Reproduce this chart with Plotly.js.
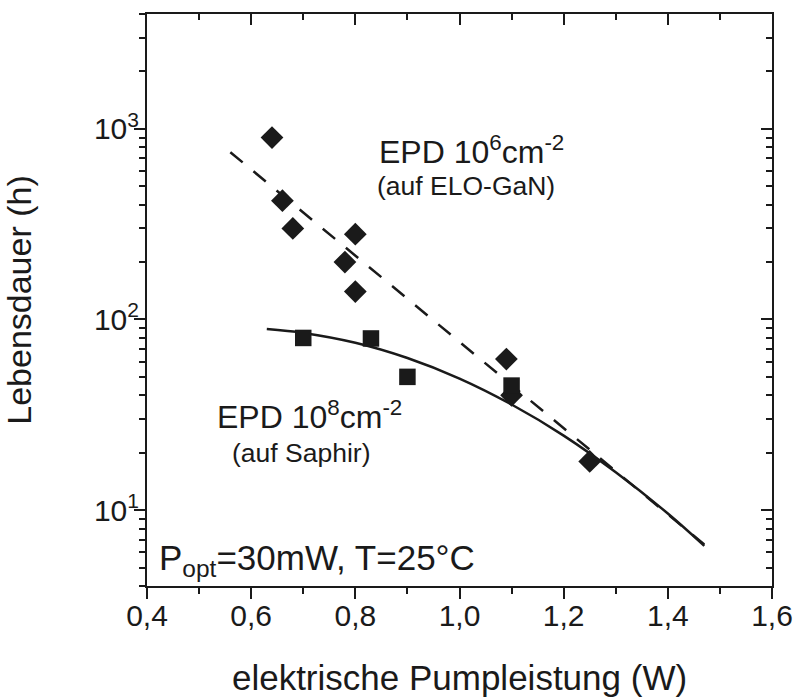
<!DOCTYPE html>
<html>
<head>
<meta charset="utf-8">
<script src="https://cdn.plot.ly/plotly-3.0.1.min.js"></script>
<style>html,body{margin:0;padding:0;background:#fff;}#chart{width:795px;height:697px;}</style>
</head>
<body>
<div id="chart"></div>
<script>
// ELO-GaN (EPD 10^6 cm^-2) lifetimes, diamonds
const eloPower = [0.64, 0.66, 0.68, 0.78, 0.80, 0.80, 1.09, 1.10, 1.25];
const eloLife  = [900, 420, 300, 200, 280, 140, 62, 40, 18];
// Sapphire (EPD 10^8 cm^-2) lifetimes, squares
const sapPower = [0.70, 0.83, 0.90, 1.10];
const sapLife  = [80, 79.5, 50, 45];
// Dashed fit (ELO-GaN)
const fitEloPower = [0.56, 1.47];
const fitEloLife  = [754, 6.6];
// Solid fit (sapphire)
const fitSapPower = [0.63, 0.70, 0.80, 0.90, 1.00, 1.10, 1.20, 1.30, 1.40, 1.47];
const fitSapLife  = [89, 85, 75.5, 62.8, 49, 35.8, 24.6, 15.8, 9.6, 6.5];
// Axis tick labels
const yTickVals = [10, 100, 1000];
const yTickText = ['10<sup>1</sup>', '10<sup>2</sup>', '10<sup>3</sup>'];
const yMinorVals = [4,5,6,7,8,9,20,30,40,50,60,70,80,90,200,300,400,500,600,700,800,900,2000,3000,4000];

const FONT = 'Liberation Sans, Arial, Helvetica, sans-serif';
const INK = '#1a1a1a';

const traces = [
  {x: fitEloPower, y: fitEloLife, mode: 'lines', line: {color: INK, width: 2.5, dash: '16px,14px'}, hoverinfo: 'skip'},
  {x: fitSapPower, y: fitSapLife, mode: 'lines', line: {color: INK, width: 2.5, shape: 'spline', smoothing: 1}, hoverinfo: 'skip'},
  {x: eloPower, y: eloLife, mode: 'markers', marker: {symbol: 'diamond', size: 17.5, color: INK}},
  {x: sapPower, y: sapLife, mode: 'markers', marker: {symbol: 'square', size: 16.5, color: INK}},
  {x: [1.0], y: [100], xaxis: 'x2', yaxis: 'y2', mode: 'markers', marker: {opacity: 0}, hoverinfo: 'skip'},
  {x: [1.0], y: [100], xaxis: 'x3', yaxis: 'y3', mode: 'markers', marker: {opacity: 0}, hoverinfo: 'skip'}
];

const yRange = [Math.log10(4), Math.log10(4000)];
const xRange = [0.4, 1.6];
const axisCommon = {showgrid: false, zeroline: false, showline: true, linecolor: INK, linewidth: 2, tickcolor: INK, tickwidth: 2};

const layout = {
  width: 795, height: 697,
  margin: {l: 147, r: 23, t: 14, b: 111},
  paper_bgcolor: '#fff', plot_bgcolor: '#fff',
  showlegend: false,
  separators: ',.',
  font: {family: FONT, color: INK, size: 30},
  // label-bearing axes (ticks drawn by x3 / y3)
  xaxis: Object.assign({}, axisCommon, {
    range: xRange, dtick: 0.2, tick0: 0.4, tickformat: '.1f',
    ticks: '', ticklabelstandoff: 2,
    tickfont: {size: 30, family: FONT, color: INK},
    title: {text: 'elektrische Pumpleistung (W)', font: {size: 35, family: FONT, color: INK}, standoff: 52}
  }),
  yaxis: Object.assign({}, axisCommon, {
    type: 'log', range: yRange,
    tickvals: yTickVals, ticktext: yTickText,
    ticks: '', ticklabelstandoff: 0,
    tickfont: {size: 30, family: FONT, color: INK},
    title: {text: 'Lebensdauer (h)', font: {size: 34, family: FONT, color: INK}, standoff: 56}
  }),
  xaxis3: Object.assign({}, axisCommon, {
    overlaying: 'x', side: 'bottom', anchor: 'y3', range: xRange, showticklabels: false,
    dtick: 0.2, tick0: 0.4, ticks: 'outside', ticklen: 11,
    minor: {dtick: 0.1, tick0: 0.4, ticks: 'outside', ticklen: 6, tickwidth: 2, tickcolor: INK, showgrid: false}
  }),
  yaxis3: Object.assign({}, axisCommon, {
    overlaying: 'y', side: 'left', anchor: 'x3', type: 'log', range: yRange, showticklabels: false,
    tickvals: yTickVals, ticks: 'outside', ticklen: 11,
    minor: {tickvals: yMinorVals, ticks: 'outside', ticklen: 6, tickwidth: 2, tickcolor: INK, showgrid: false}
  }),
  xaxis2: Object.assign({}, axisCommon, {
    overlaying: 'x', side: 'top', anchor: 'y2', range: xRange, showticklabels: false,
    dtick: 0.2, tick0: 0.4, ticks: 'inside', ticklen: 11,
    minor: {dtick: 0.1, tick0: 0.4, ticks: 'inside', ticklen: 6, tickwidth: 2, tickcolor: INK, showgrid: false}
  }),
  yaxis2: Object.assign({}, axisCommon, {
    overlaying: 'y', side: 'right', anchor: 'x2', type: 'log', range: yRange, showticklabels: false,
    tickvals: yTickVals, ticks: 'inside', ticklen: 11,
    minor: {tickvals: yMinorVals, ticks: 'inside', ticklen: 6, tickwidth: 2, tickcolor: INK, showgrid: false}
  }),
  annotations: [
    {x: 0.8436, y: 2.89, xref: 'x', yref: 'y', xanchor: 'left', yanchor: 'middle', showarrow: false, borderpad: 0,
     text: 'EPD 10<sup>6</sup>cm<sup>-2</sup>', font: {size: 32, family: FONT, color: INK}},
    {x: 0.840, y: 2.70, xref: 'x', yref: 'y', xanchor: 'left', yanchor: 'middle', showarrow: false, borderpad: 0,
     text: '(auf ELO-GaN)', font: {size: 26.5, family: FONT, color: INK}},
    {x: 0.533, y: 1.50, xref: 'x', yref: 'y', xanchor: 'left', yanchor: 'middle', showarrow: false, borderpad: 0,
     text: 'EPD 10<sup>8</sup>cm<sup>-2</sup>', font: {size: 32, family: FONT, color: INK}},
    {x: 0.562, y: 1.298, xref: 'x', yref: 'y', xanchor: 'left', yanchor: 'middle', showarrow: false, borderpad: 0,
     text: '(auf Saphir)', font: {size: 26.5, family: FONT, color: INK}},
    {x: 0.4217, y: 0.74, xref: 'x', yref: 'y', xanchor: 'left', yanchor: 'middle', showarrow: false, borderpad: 0,
     text: 'P<sub>opt</sub>=30mW, T=25°C', font: {size: 35, family: FONT, color: INK}}
  ]
};

Plotly.newPlot('chart', traces, layout, {displayModeBar: false, staticPlot: true});
</script>
</body>
</html>
